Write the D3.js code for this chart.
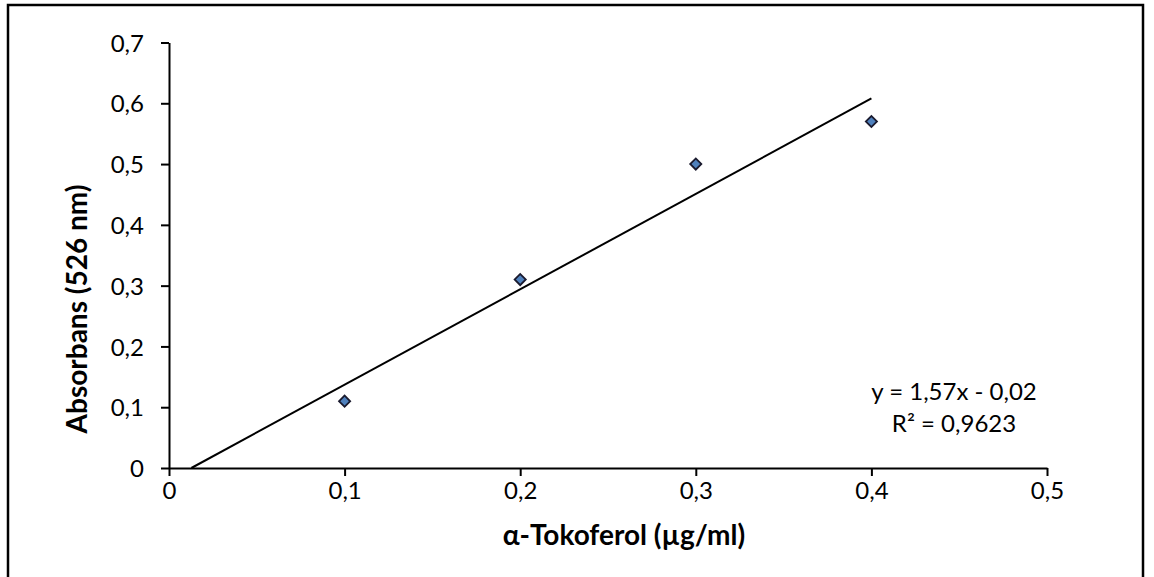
<!DOCTYPE html>
<html>
<head>
<meta charset="utf-8">
<script src="https://cdn.jsdelivr.net/npm/d3@7/dist/d3.min.js"></script>
<style>
  html, body { margin: 0; padding: 0; background: #fff; }
  svg text { font-family: Lato, "Open Sans", sans-serif; fill: #000; }
</style>
</head>
<body>
<svg id="chart" width="1154" height="577"></svg>
<script>
// Concentration of α-tocopherol standard (µg/ml) and measured absorbance at 526 nm
const concentration = [0.1, 0.2, 0.3, 0.4];
const absorbance = [0.11, 0.31, 0.50, 0.57];

const xTicks = [0, 0.1, 0.2, 0.3, 0.4, 0.5];
const yTicks = [0, 0.1, 0.2, 0.3, 0.4, 0.5, 0.6, 0.7];

const xTitle = "α-Tokoferol (µg/ml)";
const yTitle = "Absorbans (526 nm)";

const fmt = v => String(+v.toFixed(2)).replace(".", ",");

const svg = d3.select("#chart");

// Outer chart frame
svg.append("rect")
  .attr("x", 8).attr("y", 5)
  .attr("width", 1135).attr("height", 600)
  .attr("fill", "none").attr("stroke", "#000").attr("stroke-width", 2.5);

const x = d3.scaleLinear().domain([0, 0.5]).range([169, 1047]);
const y = d3.scaleLinear().domain([0, 0.7]).range([468, 42.5]);

// Least-squares linear fit
const n = concentration.length;
const mx = d3.mean(concentration), my = d3.mean(absorbance);
let sxy = 0, sxx = 0, syy = 0;
for (let i = 0; i < n; i++) {
  sxy += (concentration[i] - mx) * (absorbance[i] - my);
  sxx += (concentration[i] - mx) ** 2;
  syy += (absorbance[i] - my) ** 2;
}
const slope = sxy / sxx;
const intercept = my - slope * mx;
const r2 = (sxy * sxy) / (sxx * syy);

// Axes
const xAxis = d3.axisBottom(x).tickValues(xTicks).tickFormat(fmt).tickSizeInner(8).tickSizeOuter(0).tickPadding(21);
const yAxis = d3.axisLeft(y).tickValues(yTicks).tickFormat(fmt).tickSizeInner(8).tickSizeOuter(0).tickPadding(17);

const gx = svg.append("g").attr("transform", `translate(0,${y(0)})`).call(xAxis);
const gy = svg.append("g").attr("transform", `translate(${x(0)},0)`).call(yAxis);

[gx, gy].forEach(g => {
  g.select(".domain").attr("stroke", "#000").attr("stroke-width", 2);
  g.selectAll(".tick line").attr("stroke", "#000").attr("stroke-width", 2);
  g.selectAll(".tick text").style("font-size", "24px").attr("fill", "#000");
});
gy.selectAll(".tick text").attr("dy", "0.36em");
gx.selectAll(".tick text").attr("dy", "0.1em");

// Trendline, from where it crosses zero up to the last sample
const x0 = -intercept / slope;
const x1 = d3.max(concentration);
svg.append("line")
  .attr("x1", x(x0)).attr("y1", y(slope * x0 + intercept))
  .attr("x2", x(x1)).attr("y2", y(slope * x1 + intercept))
  .attr("stroke", "#000").attr("stroke-width", 2);

// Data markers (diamonds)
const diamond = d3.symbol().type(d3.symbolSquare).size(62);
svg.append("g").selectAll("path")
  .data(concentration.map((c, i) => [c, absorbance[i]]))
  .join("path")
  .attr("d", diamond)
  .attr("transform", d => `translate(${x(d[0])},${y(d[1])}) rotate(45)`)
  .attr("fill", "#4F81BD")
  .attr("stroke", "#1a1a2e")
  .attr("stroke-width", 1.8);

// Regression equation label
const eq = svg.append("g").attr("transform", "translate(954,0)");
eq.append("text").attr("y", 400).attr("text-anchor", "middle").style("font-size", "24px")
  .text(`y = ${fmt(slope)}x - ${fmt(Math.abs(intercept))}`);
eq.append("text").attr("y", 432).attr("text-anchor", "middle").style("font-size", "24px")
  .text(`R² = ${String(r2.toFixed(4)).replace(".", ",")}`);

// Axis titles
svg.append("text")
  .attr("x", 624).attr("y", 545)
  .attr("text-anchor", "middle")
  .style("font-size", "28px").style("font-weight", "bold")
  .text(xTitle);

svg.append("text")
  .attr("transform", "translate(87,309) rotate(-90)")
  .attr("text-anchor", "middle")
  .style("font-size", "28px").style("font-weight", "bold")
  .text(yTitle);
</script>
</body>
</html>
